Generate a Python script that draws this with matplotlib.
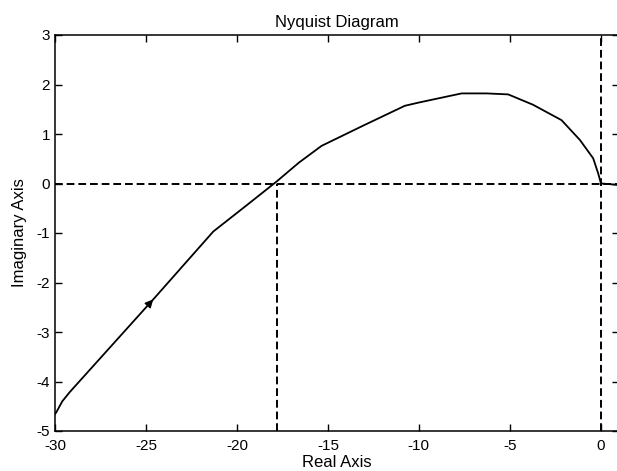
import numpy as np
import matplotlib.pyplot as plt

# Nyquist curve (real, imaginary)
re_pts = [-30.0, -29.91, -29.6, -29.18, -24.5, -21.3, -19.5, -17.82,
          -16.6, -15.35, -13.0, -10.77, -9.95, -7.65, -6.28, -5.09, -3.72, -2.16,
          -1.15, -0.42, -0.15, -0.02, 0.0, 0.4, 0.95]
im_pts = [-4.66, -4.61, -4.40, -4.21, -2.30, -0.97, -0.45, 0.04,
          0.42, 0.76, 1.18, 1.57, 1.64, 1.82, 1.82, 1.80, 1.59, 1.28,
          0.88, 0.51, 0.21, 0.04, 0.0, -0.01, -0.03]

crossing = -17.82
arrow_at = 4  # index of the direction arrow

x_ticks = [-30, -25, -20, -15, -10, -5, 0]
y_ticks = [-5, -4, -3, -2, -1, 0, 1, 2, 3]

plt.rcParams['font.family'] = ['Liberation Sans', 'DejaVu Sans']
plt.rcParams['axes.unicode_minus'] = False

fig = plt.figure(figsize=(6.17, 4.71), dpi=100)
ax = fig.add_axes([55 / 617, 40 / 471, 564 / 617, 396 / 471])

ax.plot(re_pts, im_pts, color='black', lw=1.3)

# direction arrow
x0, y0 = re_pts[arrow_at], im_pts[arrow_at]
dx = re_pts[arrow_at] - re_pts[arrow_at - 1]
dy = im_pts[arrow_at] - im_pts[arrow_at - 1]
ax.annotate('', xy=(x0, y0), xytext=(x0 - dx * 0.1, y0 - dy * 0.1),
            arrowprops=dict(arrowstyle='-|>', color='black', lw=1.0,
                            mutation_scale=12))

dash = dict(color='black', lw=1.4, ls=(0, (4, 2)))
ax.axhline(0, **dash)
ax.plot([crossing, crossing], [-5, 0], **dash)
ax.axvline(0, **dash)

ax.set_xlim(-30, 1)
ax.set_ylim(-5, 3)
ax.set_xticks(x_ticks)
ax.set_yticks(y_ticks)
ax.tick_params(direction='in', top=True, right=True, length=5, width=1.0,
               labelsize=11)
ax.tick_params(axis='x', pad=6)
ax.tick_params(axis='y', pad=3.5)
for s in ax.spines.values():
    s.set_linewidth(1.1)

ax.set_title('Nyquist Diagram', fontsize=12, pad=6)
ax.set_xlabel('Real Axis', fontsize=12, labelpad=1)
ax.set_ylabel('Imaginary Axis', fontsize=12, labelpad=7)

fig.savefig('out.png', dpi=100)
